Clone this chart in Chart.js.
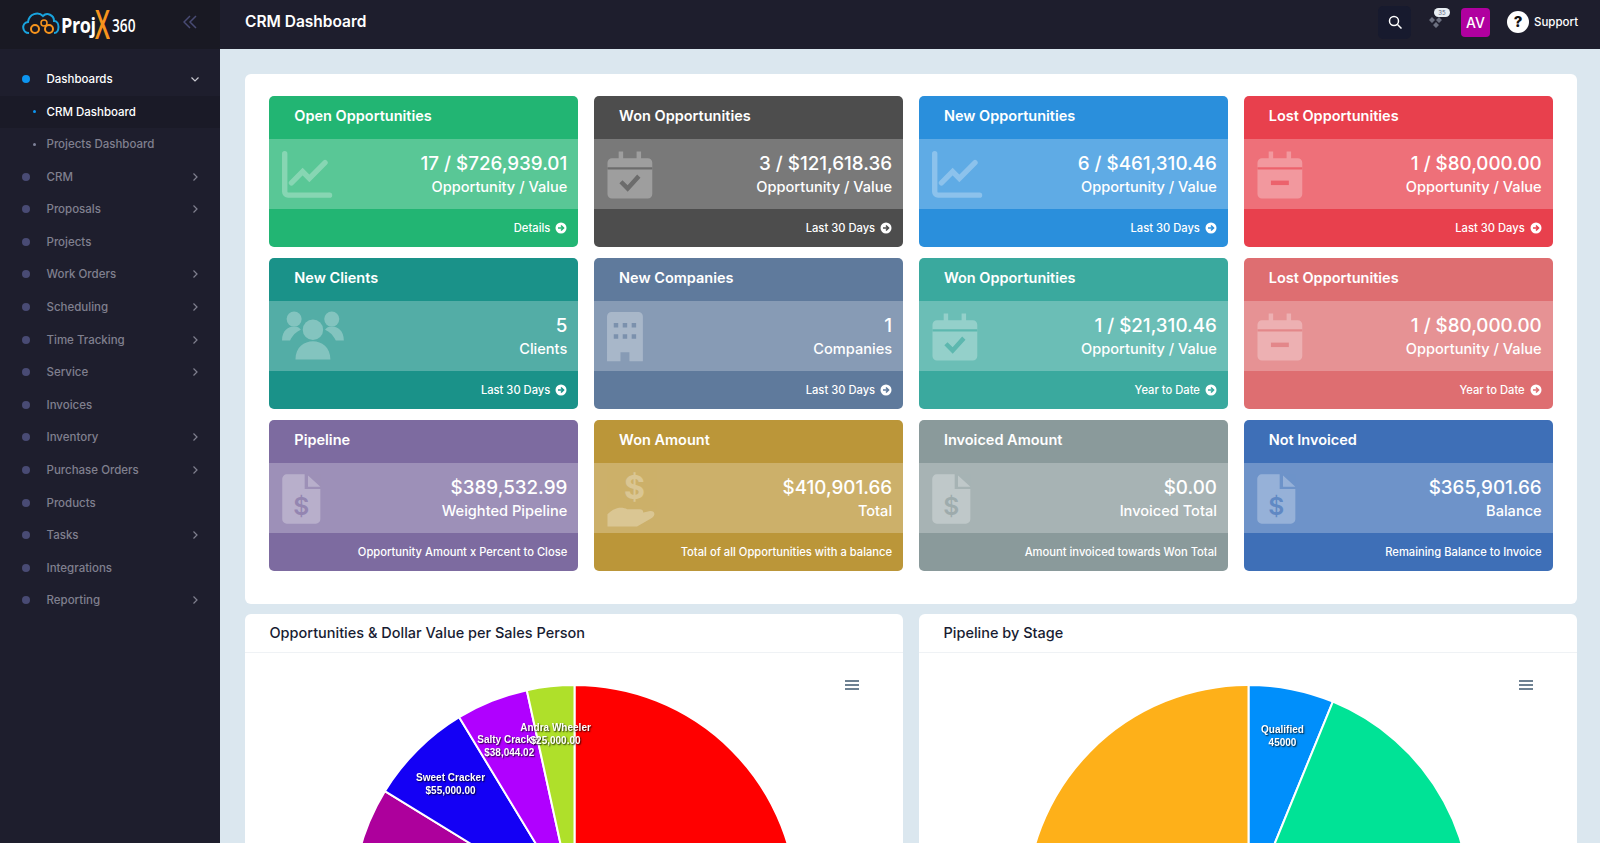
<!DOCTYPE html>
<html>
<head>
<meta charset="utf-8">
<title>CRM Dashboard</title>
<script src="https://cdn.jsdelivr.net/npm/chart.js@4"></script>
<style>
html, body { margin: 0; height: 843px; width: 1600px; overflow: hidden; background: #dbe7ef; font-family: Inter, "Noto Sans", sans-serif; }
* { box-sizing: border-box; }
#side { position: absolute; left: 0; top: 0; width: 220px; height: 843px; background: #1e1e2d; }
#logo { position: absolute; left: 0; top: 0; width: 220px; height: 49px; background: #191923; }
#logo span { position: absolute; transform-origin: left top; white-space: nowrap; }
#logo .txt { left: 61px; top: 11px; color: #fff; font: 700 22px/26px "Open Sans", sans-serif; letter-spacing: -0.5px; transform: scaleX(0.82); }
#logo .x { left: 95px; top: 4px; color: #f7941d; font: 600 40px/40px "Open Sans", sans-serif; transform: scaleX(0.6); }
#logo .n { left: 112px; top: 13px; color: #fff; font: 600 18px/24px "Open Sans", sans-serif; transform: scaleX(0.76); }
#top { position: absolute; left: 220px; top: 0; width: 1380px; height: 49px; background: #1e1e2d; }
#top h1 { position: absolute; left: 25px; top: 12px; margin: 0; color: #fff; font-size: 15.5px; line-height: 20px; font-weight: 600; }
.mi { position: absolute; left: 0; width: 220px; height: 32px; line-height: 32px; color: #80808f; font-size: 11.5px; font-weight: 500; padding-left: 46.5px; }
.mi.on { color: #fff; }
.mi.act { background: #1a1a27; }
.dot { position: absolute; left: 22px; top: 12px; width: 8px; height: 8px; border-radius: 50%; background: #494b74; }
.dot.s { left: 33px; top: 14.5px; width: 3px; height: 3px; background: #7e8299; }
.mi svg { position: absolute; left: 190px; top: 11px; }
#panel { position: absolute; left: 245px; top: 74px; width: 1332px; height: 530px; background: #fff; border-radius: 6px; }
#cards { position: absolute; left: 24.3px; top: 22px; display: grid; grid-template-columns: repeat(4, 309px); grid-auto-rows: 151px; column-gap: 15.8px; row-gap: 11px; }
.card { position: relative; border-radius: 5px; overflow: hidden; color: #fff; }
.card .hd { position: absolute; left: 25px; top: 0; height: 42.5px; line-height: 39px; font-size: 14.5px; font-weight: 600; }
.card .mid { position: absolute; left: 0; top: 42.5px; width: 100%; height: 70.5px; background: rgba(255,255,255,.25); }
.card .val { position: absolute; right: 11px; top: 13.5px; line-height: 24px; font-size: 18.8px; font-weight: 500; white-space: nowrap; }
.card .cap { position: absolute; right: 11px; top: 38px; line-height: 20px; font-size: 14.6px; font-weight: 500; white-space: nowrap; }
.card .ft { position: absolute; right: 11px; bottom: 0; height: 38px; line-height: 38.5px; font-size: 11.2px; font-weight: 500; white-space: nowrap; }
.card .ft svg { vertical-align: -2px; margin-left: 2px; }
.card .ic { position: absolute; left: 9px; top: 8px; width: 56px; height: 56px; overflow: visible; }
.box { position: absolute; top: 614px; width: 658px; height: 300px; background: #fff; border-radius: 6px 6px 0 0; }
.box .ttl { height: 38.5px; line-height: 38px; padding-left: 24.5px; font-size: 14.5px; color: #181c32; font-weight: 500; border-bottom: 1px solid #eff2f5; }
.box canvas { position: absolute; left: 0; top: 70px; }
.burger { position: absolute; top: 65.5px; width: 13.5px; height: 10px; border-top: 2px solid #6e8192; border-bottom: 2px solid #6e8192; z-index: 2; }
.burger:after { content: ""; position: absolute; left: 0; right: 0; top: 2px; border-top: 2px solid #6e8192; }
</style>
</head>
<body>
<div id="side">
    <div id="logo">
        <svg width="62" height="40" style="position:absolute;left:20px;top:5px" viewBox="0 0 62 40">
            <path d="M9 28c-7 0-8-10-1-11 1-8 10-11 15-6 4-4 11-1 11 5 6 0 6 12 0 12" fill="none" stroke="#19a3dd" stroke-width="2"/>
            <circle cx="15" cy="24" r="4" fill="none" stroke="#f7941d" stroke-width="2"/>
            <circle cx="24" cy="18" r="3" fill="none" stroke="#f7941d" stroke-width="1.5"/>
            <circle cx="29" cy="24" r="4" fill="none" stroke="#f7941d" stroke-width="2"/>
        </svg>
        <span class="txt">Proj</span><span class="x">X</span><span class="n">360</span>
        <svg width="14" height="14" style="position:absolute;left:183px;top:15px" viewBox="0 0 14 14" fill="none" stroke="#494b74" stroke-width="1.5"><path d="M7 1 1 7l6 6M13 1 7 7l6 6"/></svg>
    </div>
    <div id="menu"></div>
</div>
<div id="top">
    <h1>CRM Dashboard</h1>
    <div style="position:absolute;left:1158px;top:6px;width:33px;height:33px;background:#171a2e;border-radius:5px"></div>
    <svg width="14" height="14" style="position:absolute;left:1168px;top:15px" viewBox="0 0 14 14" fill="none" stroke="#fff" stroke-width="1.5"><circle cx="6" cy="6" r="4.5"/><path d="m9.5 9.5 4 4"/></svg>
    <svg width="16" height="16" style="position:absolute;left:1208px;top:14px" viewBox="0 0 16 16" fill="#6c7080"><path d="M4 3 7 6 4 9 1 6zM11 3l3 3-3 3-3-3zM8 8l3 3-3 3-3-3z"/></svg>
    <div style="position:absolute;left:1214px;top:8px;width:16px;height:9px;border-radius:5px;background:#e8eef3;color:#5c6480;font-size:6px;line-height:9px;text-align:center">35</div>
    <div style="position:absolute;left:1241px;top:8px;width:29px;height:29px;border-radius:4px;background:#b0009f;color:#fff;font-size:14px;line-height:29px;text-align:center;font-weight:500">AV</div>
    <div style="position:absolute;left:1287px;top:11px;width:22px;height:22px;border-radius:50%;background:#fff;color:#111;font-size:15px;line-height:22px;text-align:center;font-weight:800">?</div>
    <div style="position:absolute;left:1314px;top:12px;color:#fff;font-size:11.5px;line-height:20px;font-weight:500">Support</div>
</div>
<div id="panel"><div id="cards"></div></div>
<div class="box" style="left:245px">
    <div class="ttl">Opportunities &amp; Dollar Value per Sales Person</div>
    <div class="burger" style="left:600px"></div>
    <canvas id="SalesPersonChart" width="659" height="447"></canvas>
</div>
<div class="box" style="left:919px">
    <div class="ttl">Pipeline by Stage</div>
    <div class="burger" style="left:600px"></div>
    <canvas id="StageChart" width="659" height="447"></canvas>
</div>
<script>
// Sidebar
let menuItems = ["Dashboards", "CRM Dashboard", "Projects Dashboard", "CRM", "Proposals", "Projects", "Work Orders", "Scheduling", "Time Tracking", "Service", "Invoices", "Inventory", "Purchase Orders", "Products", "Tasks", "Integrations", "Reporting"];
let menuArrows = ["CRM", "Proposals", "Work Orders", "Scheduling", "Time Tracking", "Service", "Inventory", "Purchase Orders", "Tasks", "Reporting"];

// The tiles
let tileTitles = ["Open Opportunities", "Won Opportunities", "New Opportunities", "Lost Opportunities", "New Clients", "New Companies", "Won Opportunities", "Lost Opportunities", "Pipeline", "Won Amount", "Invoiced Amount", "Not Invoiced"];
let tileValues = ["17 / $726,939.01", "3 / $121,618.36", "6 / $461,310.46", "1 / $80,000.00", "5", "1", "1 / $21,310.46", "1 / $80,000.00", "$389,532.99", "$410,901.66", "$0.00", "$365,901.66"];
let tileCaptions = ["Opportunity / Value", "Opportunity / Value", "Opportunity / Value", "Opportunity / Value", "Clients", "Companies", "Opportunity / Value", "Opportunity / Value", "Weighted Pipeline", "Total", "Invoiced Total", "Balance"];
let tileFooters = ["Details", "Last 30 Days", "Last 30 Days", "Last 30 Days", "Last 30 Days", "Last 30 Days", "Year to Date", "Year to Date", "Opportunity Amount x Percent to Close", "Total of all Opportunities with a balance", "Amount invoiced towards Won Total", "Remaining Balance to Invoice"];
let tileColors = ["#22b573", "#4d4d4d", "#2a8fdc", "#e8404d", "#1a9289", "#5f7a9c", "#3aa99e", "#de6e71", "#7d6ba0", "#bb9639", "#8a9a9b", "#3e6fb7"];
let tileIcons = ["chart", "check", "chart", "minus", "users", "building", "check", "minus", "file", "hand", "file", "file"];

// The pies. The labels of the slices below the fold can't be read, and their values are estimates
let salesPeople = ["", "", "Sweet Cracker", "Salty Cracker", "Andra Wheeler"];
let salesValues = [538895, 70000, 55000, 38044.02, 25000];
let salesColors = ["#ff0000", "#ad009c", "#1400f5", "#b000ff", "#afe02a"];

let stages = ["Qualified", "", ""];
let stageValues = [45000, 316939, 365000];
let stageColors = ["#008ffb", "#00e396", "#feb019"];

const icons = {
    chart: '<path d="M3 3v17a1.5 1.5 0 0 0 1.5 1.5H23" fill="none" stroke="#fff" stroke-width="2.4" stroke-linecap="round"/><path d="M6 16l5-5 3 3 7-7" fill="none" stroke="#fff" stroke-width="2.4" stroke-linecap="round"/>',
    check: '<path d="M4 5h16a2 2 0 0 1 2 2v14a2 2 0 0 1-2 2H4a2 2 0 0 1-2-2V7a2 2 0 0 1 2-2zM7 2h2v4H7zM15 2h2v4h-2z" fill="#fff"/><path d="M2 9.5h20" stroke="var(--c)" stroke-width="1"/><path d="M8 15.5l3 3 5-5.5" fill="none" stroke="var(--c)" stroke-width="2"/>',
    minus: '<path d="M4 5h16a2 2 0 0 1 2 2v14a2 2 0 0 1-2 2H4a2 2 0 0 1-2-2V7a2 2 0 0 1 2-2zM7 2h2v4H7zM15 2h2v4h-2z" fill="#fff"/><path d="M2 9.5h20" stroke="var(--c)" stroke-width="1"/><path d="M8 16h8" stroke="var(--c)" stroke-width="2"/>',
    users: '<g transform="translate(0.6,-3.9) scale(1.2)"><circle cx="12.5" cy="11" r="3.8" fill="#fff"/><circle cx="5.5" cy="7" r="2.8" fill="#fff"/><circle cx="19.5" cy="7" r="2.8" fill="#fff"/><path d="M6 22c0-9 13-9 13 0zM1 15c0-6 6-6 7-4-2 1-3 2-4 4zM24 15c0-6-6-6-7-4 2 1 3 2 4 4z" fill="#fff"/></g>',
    building: '<g transform="translate(-2.2,-0.7)"><path d="M6 2h12a2 2 0 0 1 2 2v20h-6v-4h-4v4H4V4a2 2 0 0 1 2-2z" fill="#fff"/><path d="M7 7h2v2H7zM11 7h2v2h-2zM15 7h2v2h-2zM7 12h2v2H7zM11 12h2v2h-2zM15 12h2v2h-2z" fill="var(--c)"/></g>',
    file: '<g transform="translate(-1.1,-0.5)"><path d="M5 2h8v6.5h7V22a2 2 0 0 1-2 2H5a2 2 0 0 1-2-2V4a2 2 0 0 1 2-2zM14.5 2.5l5.5 5h-5.5z" fill="#fff"/><text x="11.5" y="20" font-size="11" text-anchor="middle" fill="var(--c)" font-weight="600">$</text></g>',
    hand: '<g transform="translate(-0.2,-0.5) scale(1.1)"><path d="M2 18c3-3 6-3 8-2h5c2 0 2 2 0 2.5h-4l7-1.5c3-1 4 1 2 2.5l-6 3.5H2z" fill="#fff"/><text x="13" y="12" font-size="13" text-anchor="middle" fill="#fff" font-weight="700">$</text></g>'
};

// Building the sidebar
let menu = document.getElementById("menu");
menuItems.forEach(function (name, i) {
    let item = document.createElement("div");
    item.className = "mi" + (i < 2 ? " on" : "") + (i == 1 ? " act" : "");
    item.style.top = (63 + i * 32.58) + "px";
    item.textContent = name;
    let dot = document.createElement("div");
    dot.className = "dot" + (i == 1 || i == 2 ? " s" : "");
    if (i < 2) dot.style.background = "#0d95f0";
    item.appendChild(dot);
    if (i == 0) item.insertAdjacentHTML("beforeend", '<svg width="10" height="10" viewBox="0 0 10 10" fill="none" stroke="#c8c8d0" stroke-width="1.2"><path d="M1.5 3.5 5 7l3.5-3.5"/></svg>');
    if (menuArrows.includes(name)) item.insertAdjacentHTML("beforeend", '<svg width="10" height="10" viewBox="0 0 10 10" fill="none" stroke="#80808f" stroke-width="1.2"><path d="M3.5 1.5 7 5 3.5 8.5"/></svg>');
    menu.appendChild(item);
});

// Building the tiles
let cards = document.getElementById("cards");
tileTitles.forEach(function (title, i) {
    let arrow = i < 8 ? '<svg width="12" height="12" viewBox="0 0 12 12"><circle cx="6" cy="6" r="5.5" fill="#fff"/><path d="M3 6h5M6 3.5 8.5 6 6 8.5" fill="none" stroke="' + tileColors[i] + '" stroke-width="1.6"/></svg>' : '';
    let card = document.createElement("div");
    card.className = "card";
    card.style.background = tileColors[i];
    card.style.setProperty("--c", tileColors[i]);
    card.innerHTML = '<div class="hd">' + title + '</div>' +
        '<div class="mid"><svg class="ic" viewBox="0 0 25 25" opacity="0.28">' + icons[tileIcons[i]] + '</svg>' +
        '<div class="val">' + tileValues[i] + '</div><div class="cap">' + tileCaptions[i] + '</div></div>' +
        '<div class="ft">' + tileFooters[i] + ' ' + arrow + '</div>';
    cards.appendChild(card);
});

// Labels on the slices, white with a dark shadow
const sliceLabels = {
    id: "sliceLabels",
    afterDatasetsDraw(chart, args, opts) {
        let ctx = chart.ctx;
        let values = chart.data.datasets[0].data;
        chart.getDatasetMeta(0).data.forEach(function (arc, i) {
            let name = chart.data.labels[i];
            if (!name) return;
            let p = arc.getProps(["x", "y", "startAngle", "endAngle", "outerRadius"], true);
            let mid = (p.startAngle + p.endAngle) / 2;
            let x = p.x + Math.cos(mid) * p.outerRadius * 0.79;
            let y = p.y + Math.sin(mid) * p.outerRadius * 0.79;
            ctx.save();
            ctx.font = "bold 10px 'Liberation Sans', Arial, sans-serif";
            ctx.fillStyle = "#fff";
            ctx.textAlign = "center";
            ctx.textBaseline = "middle";
            ctx.shadowColor = "rgba(0,0,0,0.8)";
            ctx.shadowBlur = 1.5;
            ctx.shadowOffsetX = 1;
            ctx.shadowOffsetY = 1;
            ctx.fillText(name, x, y - 4.5);
            ctx.fillText(opts.format(values[i]), x, y + 8.5);
            ctx.restore();
        });
    }
};

function makePie(id, labels, values, colors, format) {
    new Chart(id, {
        type: "pie",
        data: {
            labels: labels,
            datasets: [{
                data: values,
                backgroundColor: colors,
                borderColor: "#fff",
                borderWidth: 2
            }]
        },
        plugins: [sliceLabels],
        options: {
            responsive: false,
            animation: false,
            plugins: {
                legend: { display: false },
                tooltip: { enabled: false },
                sliceLabels: { format: format }
            }
        }
    });
}

// A chart for opportunities per sales person
makePie("SalesPersonChart", salesPeople, salesValues, salesColors, function (v) {
    return "$" + v.toLocaleString("en-US", { minimumFractionDigits: 2, maximumFractionDigits: 2 });
});

// A chart for the pipeline
makePie("StageChart", stages, stageValues, stageColors, function (v) {
    return String(v);
});
</script>
</body>
</html>
